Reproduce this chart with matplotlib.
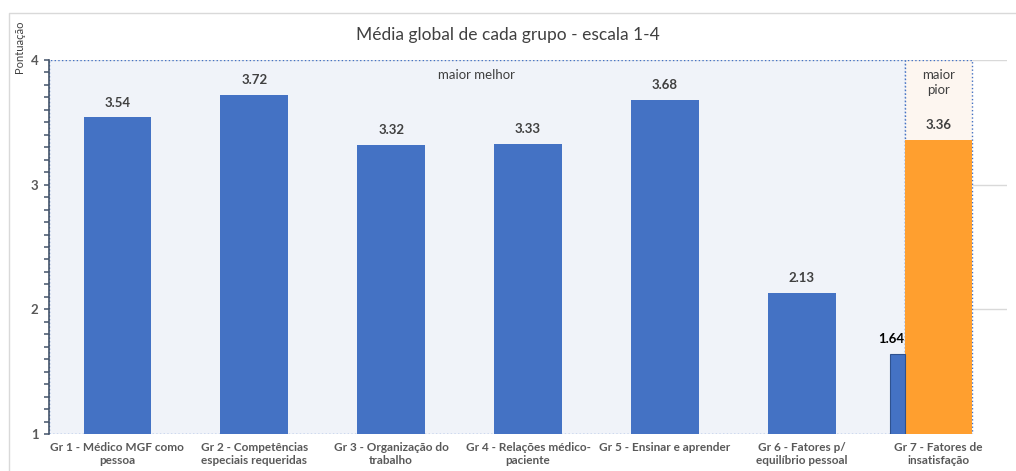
import matplotlib.pyplot as plt
from matplotlib.patches import Rectangle
from matplotlib.lines import Line2D
import numpy as np

plt.rcParams['font.family'] = ['Lato', 'DejaVu Sans']

# Data
grupos = ['Gr 1 - Médico MGF como\npessoa', 'Gr 2 - Competências\nespeciais requeridas',
          'Gr 3 - Organização do\ntrabalho', 'Gr 4 - Relações médico-\npaciente',
          'Gr 5 - Ensinar e aprender', 'Gr 6 - Fatores p/\nequilíbrio pessoal',
          'Gr 7 - Fatores de\ninsatisfação']
media_melhor = [3.54, 3.72, 3.32, 3.33, 3.68, 2.13]
media_pior = 3.36
media_gr7_azul = 1.64

azul = '#4472C4'
laranja = '#FF9F2F'
cinza = '#404040'
w = 0.495
w_fino = 0.11

fig = plt.figure(figsize=(10.16, 4.71), dpi=100)
ax = fig.add_axes([49 / 1016, 37 / 471, 958 / 1016, 374 / 471])

# outer chart border (only left and top edges are inside the image)
fig.lines.append(Line2D([8.5 / 1016, 8.5 / 1016, 1], [0, 1 - 12.5 / 471, 1 - 12.5 / 471],
                        transform=fig.transFigure, color='#D9D9D9', linewidth=1))

x = np.arange(len(media_melhor))
x7 = len(grupos) - 1
fronteira = x7 - w / 2

# background regions
ax.add_patch(Rectangle((-0.5, 1), fronteira + 0.5, 3, facecolor='#F0F3F9', edgecolor=azul,
                       linestyle=':', linewidth=1, zorder=1))
ax.add_patch(Rectangle((fronteira, 1), w, 3, facecolor='#FDF6F0', edgecolor=azul,
                       linestyle=':', linewidth=1, zorder=1))

for yv in [2, 3, 4]:
    ax.axhline(yv, color='#D9D9D9', linewidth=1, zorder=0.5)

ax.bar(x, [v - 1 for v in media_melhor], bottom=1, width=w, color=azul, zorder=2)
ax.bar(x7, media_pior - 1, bottom=1, width=w, color=laranja, zorder=2)
ax.bar(fronteira - w_fino / 2, media_gr7_azul - 1, bottom=1, width=w_fino, color=azul,
       edgecolor='#2F528F', linewidth=0.8, zorder=2)

for xi, v in zip(x, media_melhor):
    ax.text(xi, v + 0.07, f'{v:.2f}', ha='center', va='bottom', fontsize=9.5,
            fontweight='bold', color=cinza)
ax.text(x7, media_pior + 0.07, f'{media_pior:.2f}', ha='center', va='bottom', fontsize=9.5,
        fontweight='bold', color=cinza)
ax.text(fronteira - w_fino / 2 - 0.04, media_gr7_azul + 0.07, f'{media_gr7_azul:.2f}',
        ha='center', va='bottom', fontsize=9.5, fontweight='bold', color='black')

ax.text(np.mean([-0.5, fronteira]), 3.93, 'maior melhor', ha='center', va='top',
        fontsize=9.5, color=cinza)
ax.text(x7, 3.93, 'maior\npior', ha='center', va='top', fontsize=9.5, color=cinza,
        linespacing=1.3)

ax.set_xlim(-0.5, len(grupos) - 0.5)
ax.set_ylim(1, 4)
ax.set_xticks(range(len(grupos)))
ax.set_xticklabels(grupos, fontsize=8.5, fontweight='bold', color='#595959', linespacing=1.2)
ax.tick_params(axis='x', length=0, pad=6)
ax.set_yticks([1, 2, 3, 4])
ax.set_yticks(np.arange(1, 4.001, 0.1), minor=True)
ax.tick_params(axis='y', which='both', direction='out', length=3.5, width=1.1,
               color='#44546A', labelsize=9.5, labelcolor='#595959', pad=4)
for lab in ax.get_yticklabels():
    lab.set_fontweight('bold')

for s in ['top', 'right', 'bottom']:
    ax.spines[s].set_visible(False)
ax.spines['left'].set_color('#44546A')
ax.spines['left'].set_linewidth(1.2)
ax.spines['left'].set_zorder(3)
ax.set_facecolor('none')

fig.text(508 / 1016, 1 - 35 / 471, 'Média global de cada grupo - escala 1-4', ha='center',
         va='center', fontsize=12.5, color=cinza)
fig.text(20 / 1016, 1 - 47 / 471, 'Pontuação', rotation=90, ha='center', va='center',
         fontsize=8, color=cinza)

fig.savefig('out.png', dpi=100)
